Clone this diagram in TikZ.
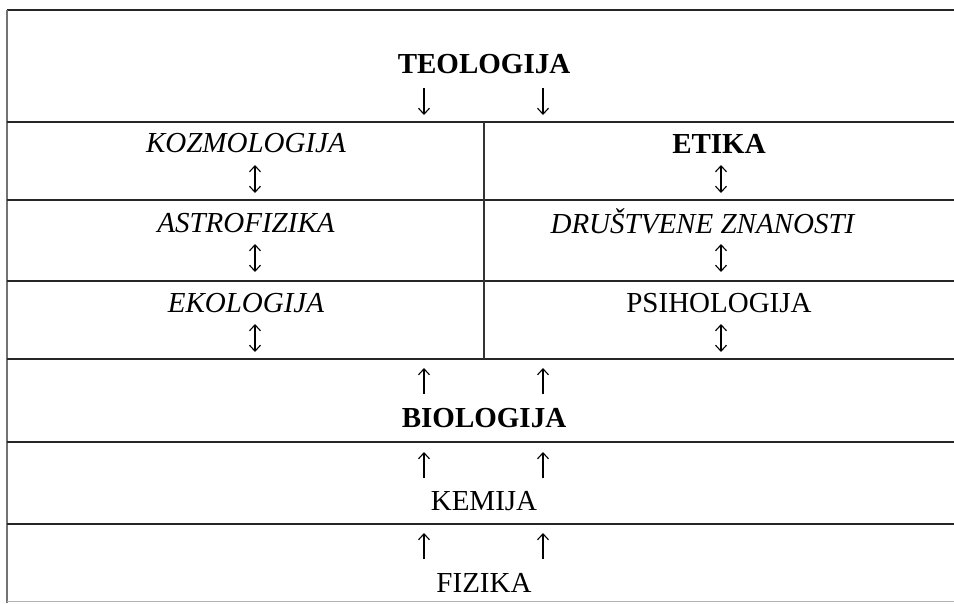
\documentclass[tikz,border=0pt]{standalone}
\usepackage{fontspec}
\setmainfont{Liberation Serif}
\usetikzlibrary{arrows.meta}
\begin{document}
\begin{tikzpicture}[x=1pt,y=-1pt,
  lbl/.style={font=\fontsize{29}{32}\selectfont, inner sep=0pt, anchor=base},
  rule/.style={line width=1.3pt, black!85},
  arr/.style={line width=1.1pt, -{Straight Barb[length=6pt,width=11pt,line width=1.1pt]}},
  darr/.style={line width=1.1pt, {Straight Barb[length=6pt,width=11pt,line width=1.1pt]}-{Straight Barb[length=6pt,width=11pt,line width=1.1pt]}}]
\useasboundingbox (0,0) rectangle (954,603);
% frame rules
\draw[rule] (7,10) -- (954,10);
\draw[line width=1.3pt, black!55] (7,10) -- (7,603);
\foreach \yy in {122,200,281,359,442,524} \draw[rule] (7,\yy) -- (954,\yy);
\draw[line width=1pt, black!30] (7,601) -- (954,601);
\draw[line width=1.1pt, black!80] (484,122) -- (484,359);
% texts
\node[lbl] (teo) at (484,73) {\textbf{TEOLOGIJA}};
\node[lbl] (koz) at (246,152) {\textit{KOZMOLOGIJA}};
\node[lbl] (eti) at (719,153) {\textbf{ETIKA}};
\node[lbl] (ast) at (246,232) {\textit{ASTROFIZIKA}};
\node[lbl] (dru) at (703,233) {\textit{DRUŠTVENE ZNANOSTI}};
\node[lbl] (eko) at (246,312) {\textit{EKOLOGIJA}};
\node[lbl] (psi) at (719,312) {PSIHOLOGIJA};
\node[lbl] (bio) at (484,427) {\textbf{BIOLOGIJA}};
\node[lbl] (kem) at (484,510) {KEMIJA};
\node[lbl] (fiz) at (484,592) {FIZIKA};
% arrow end points
\coordinate (d1a) at (424,88);  \coordinate (d1b) at (424,115);
\coordinate (d2a) at (543,88);  \coordinate (d2b) at (543,115);
\coordinate (l1a) at (255,165); \coordinate (l1b) at (255,193);
\coordinate (l2a) at (255,244); \coordinate (l2b) at (255,272);
\coordinate (l3a) at (255,324); \coordinate (l3b) at (255,352);
\coordinate (r1a) at (721,165); \coordinate (r1b) at (721,193);
\coordinate (r2a) at (721,244); \coordinate (r2b) at (721,272);
\coordinate (r3a) at (721,324); \coordinate (r3b) at (721,352);
\coordinate (u1a) at (424,394); \coordinate (u1b) at (424,368);
\coordinate (u2a) at (543,394); \coordinate (u2b) at (543,368);
\coordinate (u3a) at (424,478); \coordinate (u3b) at (424,452);
\coordinate (u4a) at (543,478); \coordinate (u4b) at (543,452);
\coordinate (u5a) at (424,559); \coordinate (u5b) at (424,533);
\coordinate (u6a) at (543,559); \coordinate (u6b) at (543,533);
\draw[arr] (d1a) -- (d1b);
\draw[arr] (d2a) -- (d2b);
\draw[darr] (l1a) -- (l1b);
\draw[darr] (l2a) -- (l2b);
\draw[darr] (l3a) -- (l3b);
\draw[darr] (r1a) -- (r1b);
\draw[darr] (r2a) -- (r2b);
\draw[darr] (r3a) -- (r3b);
\draw[arr] (u1a) -- (u1b);
\draw[arr] (u2a) -- (u2b);
\draw[arr] (u3a) -- (u3b);
\draw[arr] (u4a) -- (u4b);
\draw[arr] (u5a) -- (u5b);
\draw[arr] (u6a) -- (u6b);
\end{tikzpicture}
\end{document}
